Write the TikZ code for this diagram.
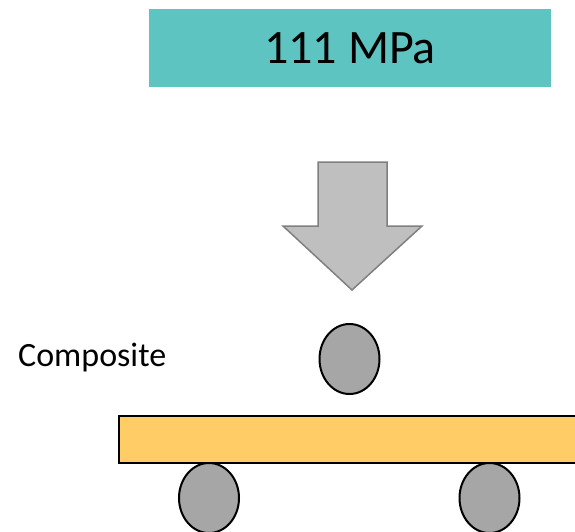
\documentclass[tikz,border=0pt]{standalone}
\usepackage{fontspec}
\setmainfont{Carlito}
\usepackage{tikz}
\usetikzlibrary{shapes.geometric}
\usetikzlibrary{positioning}

\definecolor{loadteal}{HTML}{5EC4C1}
\definecolor{beamorange}{HTML}{FFCC66}
\definecolor{rollgray}{HTML}{A6A6A6}
\definecolor{arrowgray}{HTML}{BFBFBF}
\definecolor{arrowedge}{HTML}{808080}

\begin{document}
\begin{tikzpicture}[x=1pt,y=-1pt,
  roller/.style={draw,ellipse,fill=rollgray,line width=2pt,minimum width=60pt,minimum height=70pt,inner sep=0pt},
  loadbox/.style={fill=loadteal,minimum width=402pt,minimum height=78pt,inner sep=0pt,font=\fontsize{48}{52}\selectfont},
  beam/.style={draw,fill=beamorange,line width=2pt,minimum width=462pt,minimum height=47pt,inner sep=0pt,anchor=west}]
  \useasboundingbox (0,0) rectangle (575,532);

  \node[loadbox] (load) at (350,48) {111 MPa};

  % big push arrow
  \draw[fill=arrowgray,draw=arrowedge,line width=1.5pt,line join=miter]
    (318,162) -- (387,162) -- (387,226) -- (422,226) -- (352,290)
    -- (283,226) -- (318,226) -- cycle;

  \node[roller] (top) at (349.5,359) {};
  \node[anchor=base west,inner sep=0pt,font=\fontsize{34}{38}\selectfont] (label) at (18,366) {Composite};

  \node[beam] (bar) at (118,439.5) {};
  \node[roller] (left) at (209,498) {};
  \node[roller] (right) at (489.5,498) {};
\end{tikzpicture}
\end{document}
